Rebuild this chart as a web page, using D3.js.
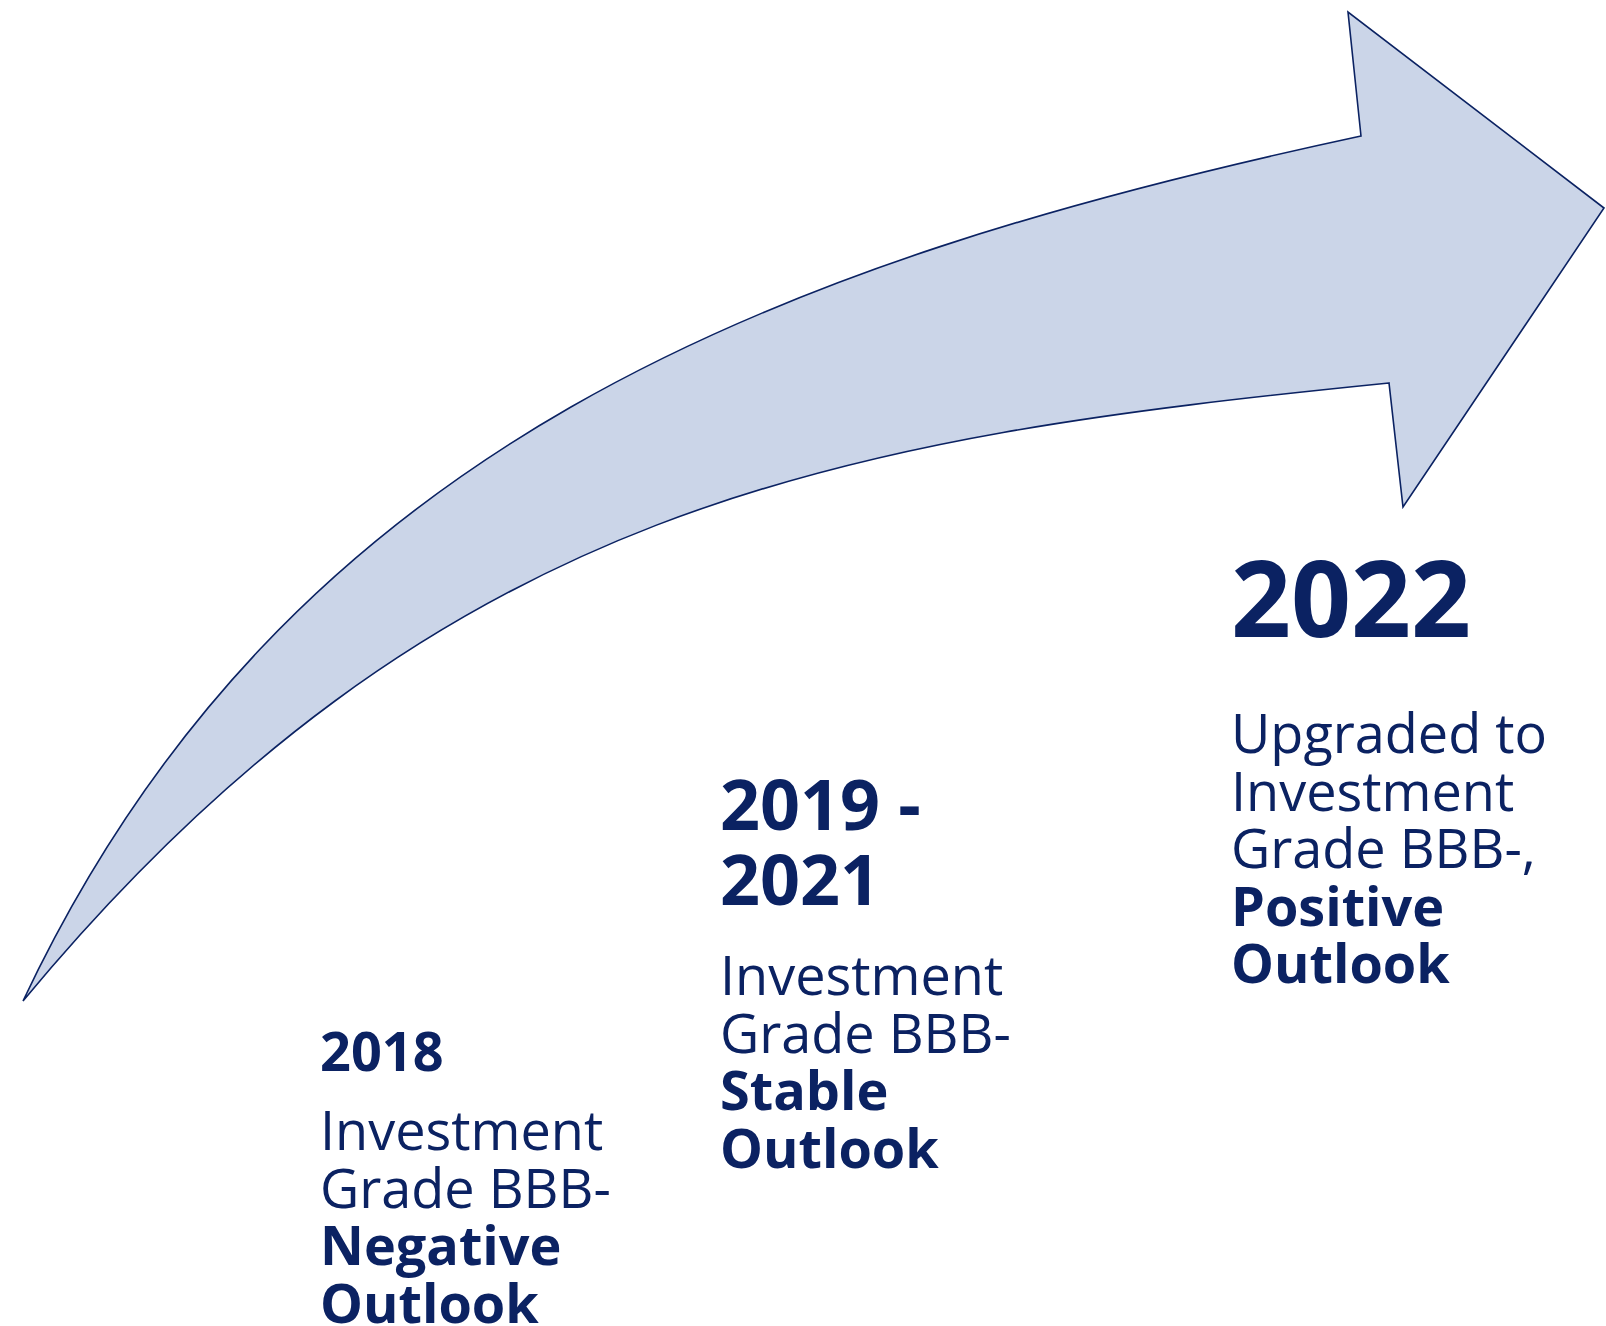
<!DOCTYPE html>
<html>
<head>
<meta charset="utf-8">
<script src="https://cdn.jsdelivr.net/npm/d3@7"></script>
<style>
  html, body { margin: 0; padding: 0; background: #fff; }
  svg { display: block; }
</style>
</head>
<body>
<div id="chart"></div>
<script>
  // timeline content
  const headings = [["2018"], ["2019 -", "2021"], ["2022"]];
  const ratingLines = [
    ["Investment", "Grade BBB-"],
    ["Investment", "Grade BBB-"],
    ["Upgraded to", "Investment", "Grade BBB-,"]
  ];
  const outlookLines = [
    ["Negative", "Outlook"],
    ["Stable", "Outlook"],
    ["Positive", "Outlook"]
  ];

  const width = 1606, height = 1326;
  const navy = "#0b2262";

  // layout of each text block (left, first heading baseline, heading size, heading line step)
  const blocks = [
    {x: 320, y: 1071, hSize: 54, hStep: 60, gap: 79},
    {x: 720, y: 830, hSize: 70, hStep: 75, gap: 90},
    {x: 1231, y: 637, hSize: 105, hStep: 100, gap: 116}
  ];
  const bodySize = 54, bodyStep = 57.5;

  const svg = d3.select("#chart")
    .append("svg")
      .attr("width", width)
      .attr("height", height)
      .attr("viewBox", [0, 0, width, height]);

  // shape coordinates in a 0..1000 box, mapped to the page
  const x = d3.scaleLinear().domain([0, 1000]).range([0, width]);
  const y = d3.scaleLinear().domain([0, 1000]).range([0, height]);
  const px = v => x(v / width * 1000), py = v => y(v / height * 1000);

  // curved arrow drawn with d3.path
  const p = d3.path();
  p.moveTo(px(23), py(1001));
  p.bezierCurveTo(px(285), py(445), px(775), py(262), px(1361), py(136));   // upper edge
  p.lineTo(px(1348), py(12));      // upper barb
  p.lineTo(px(1604), py(208));     // tip
  p.lineTo(px(1403), py(507));     // lower barb
  p.lineTo(px(1389), py(383));     // lower notch
  p.bezierCurveTo(px(842), py(438), px(438), py(501), px(23), py(1001));   // lower edge
  p.closePath();

  svg.append("path")
    .attr("d", p.toString())
    .attr("fill", "#cbd5e8")
    .attr("stroke", navy)
    .attr("stroke-width", 1.6)
    .attr("stroke-linejoin", "miter");

  // text blocks
  const g = svg.append("g")
    .attr("font-family", "'Open Sans', 'Noto Sans', sans-serif")
    .attr("fill", navy);

  blocks.forEach((b, i) => {
    const t = g.append("text").attr("x", b.x).attr("y", b.y);
    headings[i].forEach((line, j) => {
      t.append("tspan")
        .attr("x", b.x)
        .attr("y", b.y + j * b.hStep)
        .attr("font-size", b.hSize)
        .attr("font-weight", 700)
        .text(line);
    });
    let yy = b.y + (headings[i].length - 1) * b.hStep + b.gap;
    ratingLines[i].forEach(line => {
      t.append("tspan")
        .attr("x", b.x)
        .attr("y", yy)
        .attr("font-size", bodySize)
        .attr("font-weight", 400)
        .text(line);
      yy += bodyStep;
    });
    outlookLines[i].forEach(line => {
      t.append("tspan")
        .attr("x", b.x)
        .attr("y", yy)
        .attr("font-size", bodySize)
        .attr("font-weight", 700)
        .text(line);
      yy += bodyStep;
    });
  });
</script>
</body>
</html>
